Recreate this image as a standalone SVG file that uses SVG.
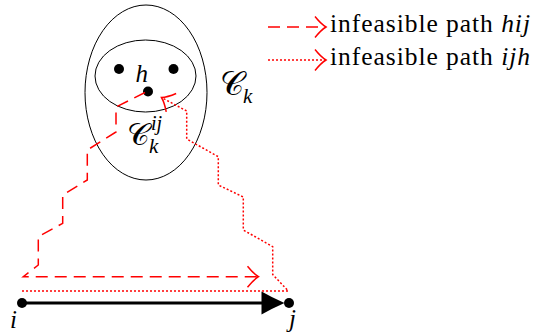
<svg xmlns="http://www.w3.org/2000/svg" width="534" height="334" viewBox="0 0 534 334">
<style>
.bg{fill:#fff}
.set{fill:none;stroke:#000;stroke-width:1}
.dot{fill:#000}
.lbl{font-family:'Liberation Serif','Times New Roman',serif;font-style:italic;fill:#000}
.cal{font-family:'DejaVu Serif','Liberation Serif',serif;font-style:normal}
.rm{font-family:'Liberation Serif','Times New Roman',serif;fill:#000}
.dash{fill:none;stroke:#ff0000;stroke-width:1.5;stroke-dasharray:12 7;stroke-linejoin:miter}
.dott{fill:none;stroke:#ff0000;stroke-width:1.5;stroke-dasharray:2 2}
.main{fill:none;stroke:#000;stroke-width:3}
</style>
<defs>
<marker id="to" markerUnits="userSpaceOnUse" markerWidth="30" markerHeight="30" viewBox="-15 -15 30 30" refX="0" refY="0" orient="auto" overflow="visible">
<path d="M-11,-10.5 Q-5,-3 0,0 Q-5,3 -11,10.5" fill="none" stroke="#ff0000" stroke-width="1.5"/>
</marker>
</defs>
<rect class="bg" x="0" y="0" width="534" height="334"/>
<g id="cluster-Ck">
<ellipse class="set" cx="146" cy="92.5" rx="61" ry="87.5"/>
<text class="lbl"><tspan class="cal" x="220" y="95" font-size="33">𝒞</tspan><tspan x="243" y="103" font-size="21">k</tspan></text>
</g>
<g id="cluster-Ckij">
<ellipse class="set" cx="145.5" cy="76" rx="50.5" ry="36"/>
<text class="lbl"><tspan class="cal" x="127" y="145" font-size="31">𝒞</tspan><tspan x="151" y="130" font-size="20">ij</tspan><tspan x="149" y="153" font-size="21">k</tspan></text>
</g>
<g id="node-a"><circle class="dot" cx="119" cy="69" r="5"/></g>
<g id="node-b"><circle class="dot" cx="173.5" cy="69" r="5"/></g>
<g id="node-h">
<circle class="dot" cx="148" cy="91.5" r="5"/>
<text class="lbl" x="135.5" y="82" font-size="25">h</text>
</g>
<g id="node-i">
<circle class="dot" cx="22" cy="303" r="5"/>
<text class="lbl" x="10" y="328" font-size="25">i</text>
</g>
<g id="node-j">
<circle class="dot" cx="289" cy="303" r="5"/>
<text class="lbl" x="289" y="327" font-size="25">j</text>
</g>
<g id="connectors">
<line class="main" x1="22" y1="303" x2="266" y2="303"/>
<path d="M284.5,303 Q272,297.5 261.5,291.5 L261.5,314.5 Q272,308.5 284.5,303 Z" fill="#000"/>
<path class="dash" marker-end="url(#to)" d="M145,92.5 L116,107 L116,132 L87.3,150 L87.3,180 L62.7,195 L62.7,223.3 L38.3,236.7 L38.3,265 L23.3,276.7 L258.5,276.7"/>
<path class="dott" marker-end="url(#to)" d="M22,291 L288.3,291 L272.7,274.5 L272.7,246.7 L243.3,230 L243.3,197 L218.3,185 L218.3,156.7 L186.7,139 L186.7,111 L161.5,97.5"/>
</g>
<g id="legend">
<line class="dash" x1="268" y1="27" x2="326" y2="27" marker-end="url(#to)"/>
<text class="rm" x="330" y="32" font-size="25.5" textLength="200" lengthAdjust="spacing">infeasible path <tspan font-style="italic">hij</tspan></text>
<line class="dott" x1="268" y1="60" x2="326" y2="60" marker-end="url(#to)"/>
<text class="rm" x="330" y="65" font-size="25.5" textLength="200" lengthAdjust="spacing">infeasible path <tspan font-style="italic">ijh</tspan></text>
</g>
</svg>
